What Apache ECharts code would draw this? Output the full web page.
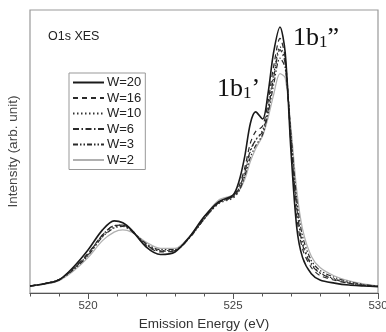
<!DOCTYPE html>
<html>
<head>
<meta charset="utf-8">
<script src="https://cdn.jsdelivr.net/npm/echarts@6/dist/echarts.min.js"></script>
<style>
  html, body { margin: 0; padding: 0; background: #fff; }
  #chart { width: 386px; height: 332px; }
</style>
</head>
<body>
<div id="chart"></div>
<script>
const energy = [518, 518.5, 519, 519.5, 520, 520.5, 520.9, 521.2, 521.5, 522, 522.5, 523, 523.5, 524, 524.5, 525, 525.2, 525.4, 525.6, 525.78, 526.02, 526.2, 526.4, 526.62, 526.8, 527, 527.2, 527.4, 527.7, 528, 528.5, 529, 529.5, 530];

const w20 = [2.5, 3.3, 4.6, 9.2, 15.2, 22.3, 25.5, 24.8, 22.3, 16.3, 13.6, 14.5, 19.8, 26.9, 32.2, 34.6, 39.2, 48, 60, 64, 61.5, 70, 85, 94, 85, 50, 23, 12.5, 6.8, 4.6, 3.5, 2.8, 2.5, 2.2];
const w16 = [2.5, 3.3, 4.8, 8.8, 14, 20.5, 23.8, 24, 22, 16.8, 14.5, 15, 19.8, 26.5, 32, 34.2, 37.5, 44, 53, 57, 59, 67, 80, 90, 83, 52, 27, 15.5, 9, 6.2, 4.5, 3.4, 2.7, 2.3];
const w10 = [2.5, 3.3, 4.8, 8.6, 13.5, 20, 23.3, 23.8, 22.2, 17.2, 15, 15.2, 19.6, 26, 31.5, 33.5, 36, 42, 50, 54, 57.5, 65, 77, 87, 82, 55, 31, 18, 10.5, 7.2, 5, 3.6, 2.8, 2.4];
const w6 = [2.5, 3.3, 4.7, 8.5, 13.8, 20.5, 23.8, 24, 22, 17, 14.8, 15, 19.5, 26.2, 31.8, 34, 36.8, 42.5, 50.5, 54, 57, 64, 76, 86, 81, 54, 30, 17, 10, 7, 4.8, 3.5, 2.7, 2.3];
const w3 = [2.4, 3.2, 4.6, 8.2, 13.2, 19.8, 23, 23.5, 22, 17.5, 15.3, 15.4, 19.5, 26, 31.8, 34, 36, 41, 48, 52, 56, 63, 73.5, 83, 79.5, 56, 33, 20, 11.5, 8, 5.5, 4, 3, 2.4];
const w2 = [2.4, 3.1, 4.4, 7.8, 12.5, 18.5, 21.5, 22.3, 21.5, 18, 15.8, 15.8, 20, 26.8, 32.8, 34.5, 36, 40, 46.5, 51, 55.5, 61.5, 70, 77.5, 76, 58, 36, 22.5, 13, 9, 6, 4.3, 3.2, 2.5];

const seriesNames = ["W=20", "W=16", "W=10", "W=6", "W=3", "W=2"];
const seriesValues = [w20, w16, w10, w6, w3, w2];
const majorTicks = [520, 525, 530];

const styles = [
  { color: "#1a1a1a", width: 1.6, type: "solid" },
  { color: "#2a2a2a", width: 1.2, type: [5, 4] },
  { color: "#333333", width: 1.2, type: [1.5, 2.5] },
  { color: "#2a2a2a", width: 1.2, type: [6, 2.5, 1.5, 2.5] },
  { color: "#2a2a2a", width: 1.2, type: [5, 2, 1.5, 2, 1.5, 2] },
  { color: "#b0b0b0", width: 1.3, type: "solid" }
];

const serif = { fontFamily: "Liberation Serif", fill: "#111", verticalAlign: "bottom" };
const peakLabel = (quote) => ({
  text: "{a|1b}{s|1}{a|" + quote + "}",
  rich: {
    a: Object.assign({ fontSize: 26, lineHeight: 26 }, serif),
    s: Object.assign({ fontSize: 17, lineHeight: 22 }, serif)
  }
});

const chart = echarts.init(document.getElementById("chart"));
chart.setOption({
  animation: false,
  grid: {
    left: 30, right: 8, top: 10, bottom: 39,
    outerBoundsMode: "none",
    containLabel: false,
    show: true, borderColor: "#999", borderWidth: 1.2
  },
  legend: {
    orient: "vertical",
    left: 69, top: 73,
    padding: [3, 4, 3, 3],
    itemWidth: 31, itemHeight: 10, itemGap: 2.5,
    borderColor: "#999", borderWidth: 1,
    backgroundColor: "#fff",
    itemStyle: { opacity: 0 },
    textStyle: { fontFamily: "Liberation Sans", fontSize: 13, lineHeight: 13, color: "#222", padding: [0, 0, 0, -2] },
    data: seriesNames
  },
  xAxis: [
    {
      type: "value", min: 518, max: 530,
      name: "Emission Energy (eV)", nameLocation: "middle", nameGap: 24,
      nameTextStyle: { fontFamily: "Liberation Sans", fontSize: 13.5, color: "#333" },
      axisLine: { lineStyle: { color: "#555", width: 1.2 } },
      axisTick: { customValues: majorTicks, length: 6, lineStyle: { color: "#555" } },
      axisLabel: { customValues: majorTicks, fontFamily: "Liberation Sans", fontSize: 11.5, color: "#444", margin: 7 },
      splitLine: { show: false }
    },
    {
      type: "value", min: 518, max: 530, interval: 1, position: "bottom",
      axisLine: { show: false },
      axisTick: { length: 3.5, lineStyle: { color: "#555" } },
      axisLabel: { show: false },
      splitLine: { show: false }
    }
  ],
  yAxis: {
    type: "value", min: 0, max: 100,
    name: "Intensity (arb. unit)", nameLocation: "middle", nameGap: 10,
    nameTextStyle: { fontFamily: "Liberation Sans", fontSize: 13.5, color: "#444" },
    axisLine: { show: false }, axisTick: { show: false },
    axisLabel: { show: false }, splitLine: { show: false }
  },
  graphic: [
    {
      type: "text", left: 48, top: 30,
      style: { text: "O1s XES", fontFamily: "Liberation Sans", fontSize: 12.5, fill: "#222" }
    },
    { type: "text", left: 217, top: 76, style: peakLabel("’") },
    { type: "text", left: 293, top: 25, style: peakLabel("”") }
  ],
  series: seriesNames.map((name, i) => ({
    name,
    type: "line",
    xAxisIndex: 0,
    smooth: 0.3,
    symbol: "none",
    z: 10 - i,
    lineStyle: styles[i],
    itemStyle: { color: styles[i].color },
    data: energy.map((e, k) => [e, seriesValues[i][k]])
  }))
});
</script>
</body>
</html>
